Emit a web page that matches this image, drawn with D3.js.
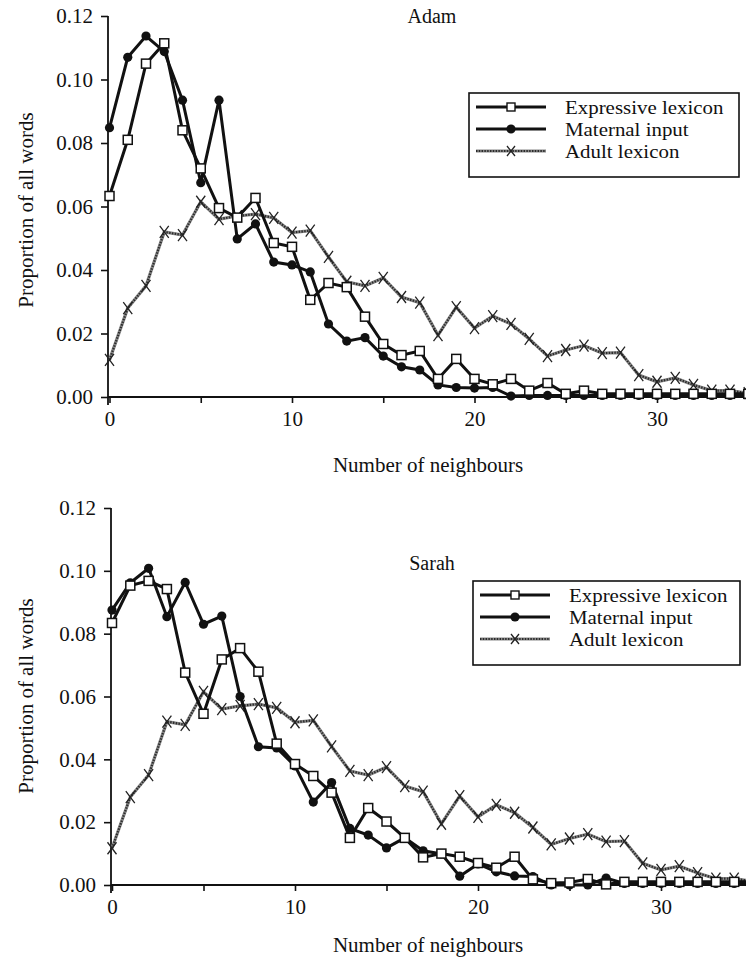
<!DOCTYPE html>
<html>
<head>
<meta charset="utf-8">
<script src="https://cdn.jsdelivr.net/npm/d3@7"></script>
<style>
  html, body { margin: 0; padding: 0; background: #fff; }
  svg { display: block; }
  text { font-family: "Liberation Serif", "Times New Roman", serif; fill: #111; }
</style>
</head>
<body>
<svg id="chart" width="746" height="968"></svg>
<script>
// ---------------- DATA ----------------
const neighbours = [0,1,2,3,4,5,6,7,8,9,10,11,12,13,14,15,16,17,18,19,20,21,22,23,24,25,26,27,28,29,30,31,32,33,34,35];

const seriesNames = ["Expressive lexicon", "Maternal input", "Adult lexicon"];

const adamExpressive = [0.0633,0.081,0.105,0.1114,0.084,0.072,0.0595,0.0565,0.0627,0.0485,0.0473,0.0306,0.0359,0.0346,0.0253,0.0167,0.0132,0.0145,0.0057,0.012,0.0057,0.004,0.0057,0.002,0.0044,0.001,0.002,0.001,0.001,0.001,0.001,0.001,0.001,0.001,0.001,0.001];
const adamMaternal = [0.0848,0.107,0.1137,0.1088,0.0935,0.0675,0.0935,0.0498,0.0545,0.0425,0.0416,0.0394,0.023,0.0176,0.0187,0.0129,0.0095,0.0085,0.0038,0.003,0.0028,0.003,0.0003,0.0005,0.0005,0.0005,0.0005,0.0005,0.0005,0.0005,0.0005,0.0005,0.0005,0.0005,0.0005,0.0005];

const sarahExpressive = [0.0834,0.0953,0.0968,0.0942,0.0676,0.0545,0.0718,0.0754,0.0679,0.045,0.0385,0.0347,0.0294,0.015,0.0245,0.0202,0.015,0.0088,0.01,0.009,0.007,0.0055,0.009,0.0018,0.0006,0.0008,0.0019,0.0002,0.001,0.001,0.001,0.001,0.001,0.001,0.001,0.001];
const sarahMaternal = [0.0875,0.0962,0.1008,0.0854,0.0963,0.083,0.0856,0.06,0.044,0.0436,0.0379,0.0264,0.0326,0.018,0.0159,0.0118,0.015,0.0109,0.0099,0.0028,0.0067,0.0042,0.0029,0.0027,0.0,0.0,0.0,0.0022,0.0005,0.0005,0.0005,0.0005,0.0005,0.0005,0.0005,0.0005];

const adultLexicon = [0.0117,0.028,0.035,0.052,0.051,0.0615,0.056,0.057,0.0576,0.0564,0.0518,0.0524,0.0441,0.0363,0.035,0.0375,0.0315,0.0297,0.0195,0.0283,0.0217,0.0255,0.023,0.0183,0.0129,0.0148,0.0162,0.0138,0.014,0.0069,0.0048,0.006,0.0038,0.002,0.002,0.0012];

const yTicks = [0, 0.02, 0.04, 0.06, 0.08, 0.10, 0.12];
const xTicksMajor = [0, 10, 20, 30];
const xTicksMinor = [5, 15, 25, 35];

const titles = ["Adam", "Sarah"];
const xLabel = "Number of neighbours";
const yLabel = "Proportion of all words";

// ---------------- DRAW ----------------
const svg = d3.select("#chart");
const FONT = 21;

function drawPanel(p) {
  const g = svg.append("g");
  const x = d3.scaleLinear().domain([0, 35]).range([p.x0, p.x0 + 35 * p.dx]);
  const y = d3.scaleLinear().domain([0, 0.12]).range([p.yBottom, p.yTop]);

  // y axis
  const yAxis = d3.axisLeft(y).tickValues(yTicks).tickFormat(d3.format(".2f")).tickSize(7).tickPadding(8);
  const ga = g.append("g").attr("transform", `translate(${p.axisX},0)`).call(yAxis);
  ga.select(".domain").attr("d", `M0,${p.yTop}V${p.yBottom + 8}`).attr("stroke", "#111").attr("stroke-width", 1.8);
  ga.selectAll(".tick line").attr("stroke", "#111").attr("stroke-width", 1.6);
  ga.selectAll(".tick text").attr("font-size", FONT).attr("font-family", "Liberation Serif, serif").attr("fill", "#111");

  // x axis
  const xAxis = d3.axisBottom(x).tickValues(xTicksMajor.concat(xTicksMinor)).tickSize(6).tickPadding(8)
    .tickFormat(d => xTicksMajor.includes(d) ? d : "");
  const gx = g.append("g").attr("transform", `translate(0,${p.yBottom})`).call(xAxis);
  gx.select(".domain").attr("d", `M${p.axisX},0H746`).attr("stroke", "#111").attr("stroke-width", 1.8);
  gx.selectAll(".tick line").attr("stroke", "#111").attr("stroke-width", 1.6);
  gx.selectAll(".tick text").attr("font-size", FONT).attr("font-family", "Liberation Serif, serif").attr("fill", "#111");

  // labels
  g.append("text").attr("x", p.titleX).attr("y", p.titleY).attr("text-anchor", "middle")
    .attr("font-size", 20).text(p.title);
  g.append("text").attr("x", 428).attr("y", p.xLabelY).attr("text-anchor", "middle")
    .attr("font-size", FONT).text(xLabel);
  g.append("text").attr("transform", `translate(33,${p.yLabelMid}) rotate(-90)`).attr("text-anchor", "middle")
    .attr("font-size", FONT).text(yLabel);

  const line = d3.line().x((d, i) => x(neighbours[i])).y(d => y(d));

  // Adult lexicon (grey textured line with x markers)
  g.append("path").datum(adultLexicon).attr("d", line).attr("fill", "none")
    .attr("stroke", "#888").attr("stroke-width", 3.2);
  g.append("path").datum(adultLexicon).attr("d", line).attr("fill", "none")
    .attr("stroke", "#2a2a2a").attr("stroke-width", 2.2).attr("stroke-dasharray", "1.4 1.4");
  g.selectAll(".xm").data(adultLexicon).enter().append("path")
    .attr("transform", (d, i) => `translate(${x(neighbours[i])},${y(d)})`)
    .attr("d", "M-4.5,-6L4.5,6M-4.5,6L4.5,-6").attr("stroke", "#222").attr("stroke-width", 1.3).attr("fill", "none");

  // Maternal input
  g.append("path").datum(p.maternal).attr("d", line).attr("fill", "none")
    .attr("stroke", "#111").attr("stroke-width", 3);
  g.selectAll(".cm").data(p.maternal).enter().append("circle")
    .attr("cx", (d, i) => x(neighbours[i])).attr("cy", d => y(d)).attr("r", 4.6).attr("fill", "#111");

  // Expressive lexicon
  g.append("path").datum(p.expressive).attr("d", line).attr("fill", "none")
    .attr("stroke", "#111").attr("stroke-width", 3);
  g.selectAll(".sm").data(p.expressive).enter().append("rect")
    .attr("x", (d, i) => x(neighbours[i]) - 4.5).attr("y", d => y(d) - 4.5)
    .attr("width", 9).attr("height", 9).attr("fill", "#fff").attr("stroke", "#111").attr("stroke-width", 1.5);

  // legend
  const L = g.append("g").attr("transform", `translate(${p.legX},${p.legY})`);
  L.append("rect").attr("width", p.legW).attr("height", 84).attr("fill", "#fff").attr("stroke", "#111").attr("stroke-width", 1.6);
  const rows = [14, 36, 58];
  rows.forEach((ry, k) => {
    if (k === 2) {
      L.append("line").attr("x1", 7).attr("x2", 77).attr("y1", ry).attr("y2", ry).attr("stroke", "#888").attr("stroke-width", 3.2);
      L.append("line").attr("x1", 7).attr("x2", 77).attr("y1", ry).attr("y2", ry).attr("stroke", "#2a2a2a").attr("stroke-width", 2.2).attr("stroke-dasharray", "1.4 1.4");
      L.append("path").attr("transform", `translate(42,${ry})`).attr("d", "M-4,-5L4,5M-4,5L4,-5").attr("stroke", "#222").attr("stroke-width", 1.3);
    } else {
      L.append("line").attr("x1", 7).attr("x2", 77).attr("y1", ry).attr("y2", ry).attr("stroke", "#111").attr("stroke-width", 3);
      if (k === 0) L.append("rect").attr("x", 38).attr("y", ry - 4).attr("width", 8).attr("height", 8).attr("fill", "#fff").attr("stroke", "#111").attr("stroke-width", 1.4);
      else L.append("circle").attr("cx", 42).attr("cy", ry).attr("r", 4.6).attr("fill", "#111");
    }
    L.append("text").attr("transform", `translate(96,${ry + 6.5}) scale(1.1,1)`).attr("font-size", 19).text(seriesNames[k]);
  });
}

drawPanel({
  title: titles[0], titleX: 432, titleY: 23,
  x0: 109.5, dx: 18.25, axisX: 108, yTop: 16, yBottom: 397,
  xLabelY: 472, yLabelMid: 210,
  expressive: adamExpressive, maternal: adamMaternal,
  legX: 469, legY: 93, legW: 270
});

drawPanel({
  title: titles[1], titleX: 432, titleY: 570,
  x0: 112, dx: 18.3, axisX: 111, yTop: 508, yBottom: 885,
  xLabelY: 952, yLabelMid: 696,
  expressive: sarahExpressive, maternal: sarahMaternal,
  legX: 473, legY: 581, legW: 267
});
</script>
</body>
</html>
